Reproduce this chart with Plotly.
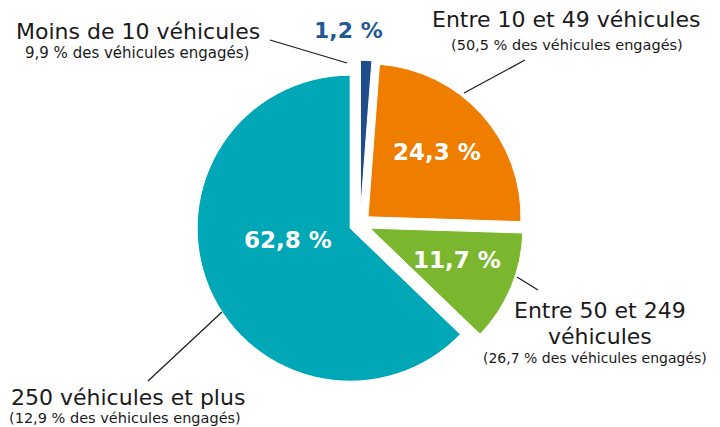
import plotly.graph_objects as go

categories = ["Moins de 10 véhicules", "Entre 10 et 49 véhicules",
              "Entre 50 et 249 véhicules", "250 véhicules et plus"]
shares = [1.2, 24.3, 11.7, 62.8]
vehicle_shares = ["9,9", "50,5", "26,7", "12,9"]
colors = ["#1F4E8C", "#EF7D00", "#7AB72E", "#00A7B7"]
pulls = [0.07, 0.07, 0.07, 0.07]

value_labels = [f"{v:.1f}".replace(".", ",") + " %" for v in shares]

FONT = "DejaVu Sans"
W, H = 720, 427
OFF = 8  # page body margin of the viewer


def px(x):
    return (x - OFF) / W


def py(y):
    return 1 - (y - OFF) / H


fig = go.Figure(go.Pie(
    labels=categories,
    values=shares,
    textinfo="none",
    marker=dict(colors=colors, line=dict(color="white", width=1)),
    pull=pulls,
    sort=False,
    direction="clockwise",
    rotation=0,
    domain=dict(x=[0.2615, 0.7163], y=[0.1107, 0.8775]),
    hoverinfo="label+percent",
    showlegend=False,
))


def ann(text, x, y, size, color="#1a1a1a", bold=False):
    return dict(text=text, x=px(x), y=py(y), xref="paper", yref="paper",
                font=dict(family=FONT, size=size, color=color,
                          weight="bold" if bold else "normal"),
                showarrow=False, xanchor="center", yanchor="middle")


value_pos = [(348, 30), (437, 152), (457, 260), (288, 240)]
value_col = ["#1F5A96", "white", "white", "white"]
annotations = [ann(t, x, y, 22 if i == 0 else 23, value_col[i], True)
               for i, (t, (x, y)) in enumerate(zip(value_labels, value_pos))]

annotations += [
    ann(categories[0], 138, 32, 22),
    ann(vehicle_shares[0] + " % des véhicules engagés)", 137, 53, 15),
    ann(categories[1], 566, 19, 22),
    ann("(" + vehicle_shares[1] + " % des véhicules engagés)", 567, 45, 14.5),
    ann("Entre 50 et 249", 600, 310, 22),
    ann("véhicules", 600, 336, 22),
    ann("(" + vehicle_shares[2] + " % des véhicules engagés)", 595, 358, 14),
    ann(categories[3], 128, 397, 22),
    ann("(" + vehicle_shares[3] + " % des véhicules engagés)", 125, 418, 14.5),
]

# leader lines (label-side endpoint -> slice edge), screen pixels
leaders = [((270, 40), (347, 63)), ((525, 60), (464, 93)),
           ((538, 290), (517, 277)), ((148, 381), (222, 312))]
shapes = [dict(type="line", xref="paper", yref="paper",
               x0=px(a[0]), y0=py(a[1]), x1=px(b[0]), y1=py(b[1]),
               line=dict(color="#1a1a1a", width=1.2)) for a, b in leaders]

fig.update_layout(
    width=W, height=H,
    margin=dict(l=0, r=0, t=0, b=0),
    paper_bgcolor="white", plot_bgcolor="white",
    annotations=annotations,
    shapes=shapes,
)

fig.write_html("out.html")
